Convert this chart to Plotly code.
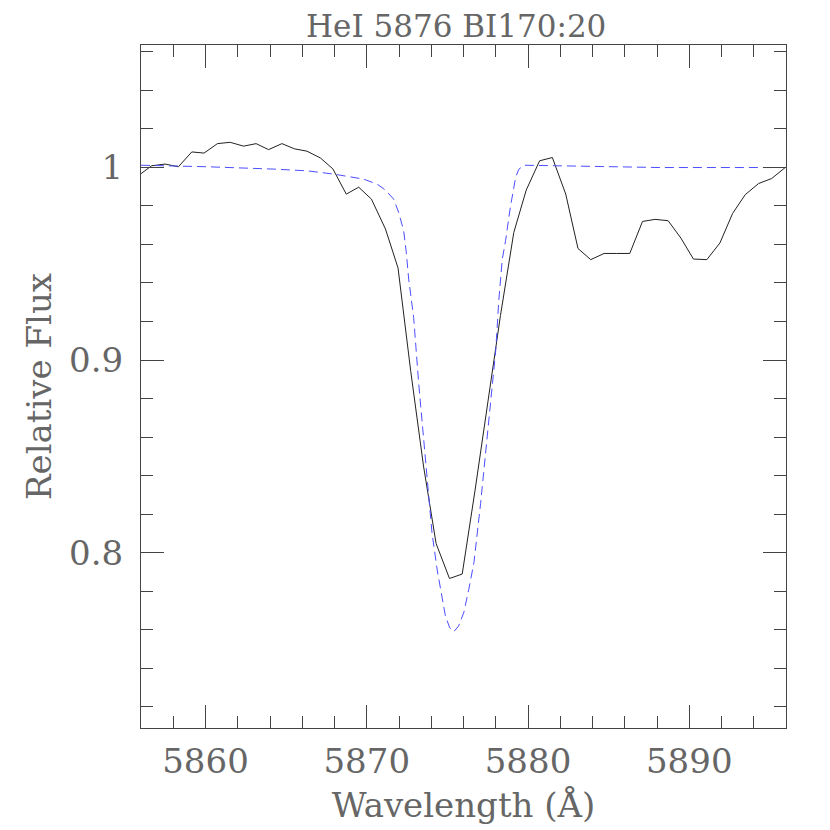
import plotly.graph_objects as go

# observed spectrum (wavelength in Angstrom, relative flux)
obs_wave = [5855.87, 5856.66, 5857.49, 5858.32, 5859.15, 5859.91, 5860.74, 5861.53, 5862.36,
            5863.14, 5863.91, 5864.74, 5865.52, 5866.29, 5867.12, 5867.90, 5868.73, 5869.50,
            5870.29, 5871.16, 5871.94, 5872.73, 5873.52, 5874.30, 5875.13, 5875.92, 5876.71,
            5877.50, 5878.29, 5879.12, 5879.89, 5880.72, 5881.51, 5882.34, 5883.10, 5883.89,
            5884.72, 5885.50, 5886.31, 5887.10, 5887.88, 5888.69, 5889.48, 5890.26, 5891.09,
            5891.90, 5892.69, 5893.47, 5894.30, 5895.11, 5895.95]
obs_flux = [0.9959, 1.0008, 1.0017, 1.0003, 1.0080, 1.0074, 1.0123, 1.0130, 1.0110,
            1.0123, 1.0092, 1.0123, 1.0096, 1.0084, 1.0049, 0.9992, 0.9861, 0.9897,
            0.9835, 0.9680, 0.9478, 0.8940, 0.8450, 0.8048, 0.7866, 0.7889, 0.8320,
            0.8780, 0.9230, 0.9662, 0.9882, 1.0034, 1.0051, 0.9861, 0.9579, 0.9521,
            0.9553, 0.9553, 0.9553, 0.9719, 0.9730, 0.9723, 0.9633, 0.9524, 0.9521,
            0.9607, 0.9761, 0.9858, 0.9916, 0.9942, 0.9999]

# model profile
model_wave = [5856.0, 5860.1, 5864.2, 5866.3, 5867.95, 5869.8, 5870.64, 5871.16, 5871.67,
              5871.98, 5872.29, 5872.45, 5872.6, 5872.91, 5873.22, 5873.5, 5873.74, 5874.05,
              5874.37, 5874.88, 5875.15, 5875.4, 5875.7, 5876.02, 5876.33, 5876.65, 5877.06,
              5877.47, 5877.78, 5878.0, 5878.19, 5878.4, 5878.61, 5878.9, 5879.23, 5879.43,
              5879.75, 5884.1, 5888.2, 5896.0]
model_flux = [1.0011, 1.0003, 0.9991, 0.9982, 0.9965, 0.9939, 0.9913, 0.9882, 0.9835,
              0.9766, 0.9670, 0.9560, 0.9420, 0.9220, 0.8880, 0.8620, 0.8360, 0.8100,
              0.7910, 0.7670, 0.7610, 0.7590, 0.7620, 0.7690, 0.7810, 0.7950, 0.8255,
              0.8600, 0.8880, 0.9050, 0.9310, 0.9520, 0.9620, 0.9790, 0.9947, 0.9990,
              1.0011, 1.0004, 0.9999, 0.9999]

font_name = "DejaVu Serif"
txt_col = "#666666"
ax_col = "#444444"

fig = go.Figure()
fig.add_trace(go.Scatter(x=obs_wave, y=obs_flux, mode='lines',
                         line=dict(color='#222222', width=1)))
fig.add_trace(go.Scatter(x=model_wave, y=model_flux, mode='lines',
                         line=dict(color='#4d4dff', width=1, dash='9px,5px')))

axis_common = dict(showline=True, linecolor=ax_col, linewidth=1, mirror='ticks',
                   ticks='inside', tickcolor=ax_col, tickwidth=1, ticklen=23,
                   showgrid=False, zeroline=False,
                   tickfont=dict(family=font_name, size=34, color=txt_col))

fig.update_layout(
    width=830, height=830,
    margin=dict(l=133, r=52, t=37, b=110),
    paper_bgcolor='white', plot_bgcolor='white',
    showlegend=False,
    title=dict(text='HeI 5876 BI170:20', xref='container', x=0.54, xanchor='center',
               yref='container', y=0.978, yanchor='middle',
               font=dict(family=font_name, size=31, color=txt_col)),
    xaxis=dict(axis_common, range=[5856, 5896], tick0=5860, dtick=10,
               ticklabelstandoff=3,
               minor=dict(dtick=2, ticks='inside', ticklen=12, tickcolor=ax_col, tickwidth=1),
               title=dict(text='Wavelength (Å)', standoff=13,
                          font=dict(family=font_name, size=34, color=txt_col))),
    yaxis=dict(axis_common, range=[0.709, 1.0635], tick0=0.8, dtick=0.1,
               ticklabelstandoff=10,
               minor=dict(dtick=0.02, ticks='inside', ticklen=12, tickcolor=ax_col, tickwidth=1),
               title=dict(text='Relative Flux', standoff=7,
                          font=dict(family=font_name, size=34, color=txt_col))),
)

fig.write_html("out.html")
